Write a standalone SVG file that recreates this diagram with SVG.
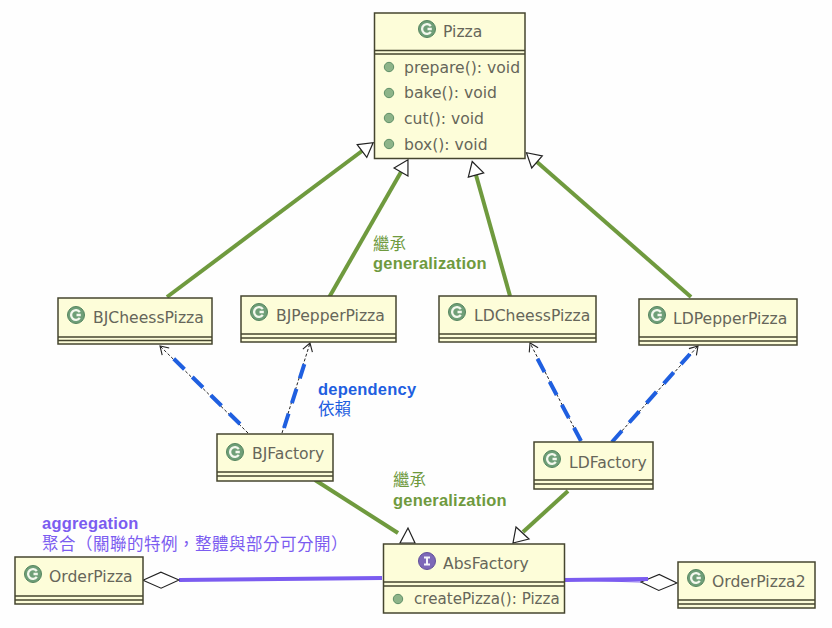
<svg xmlns="http://www.w3.org/2000/svg" width="832" height="628" viewBox="0 0 832 628">
<style>
.box{fill:#fdfdd9;stroke:#45452f;stroke-width:1.5}
.div{stroke:#45452f;stroke-width:1.4;fill:none}
.t{font-family:"DejaVu Sans","Noto Sans",sans-serif;font-size:15.6px;fill:#66665a}
.dot{fill:#8db489;stroke:#5f8f68;stroke-width:1}
.gen{stroke:#6f9a3e;stroke-width:4;fill:none}
.depb{stroke:#1f5fe0;stroke-width:4;fill:none;stroke-dasharray:15 11}
.dept{stroke:#222;stroke-width:1;fill:none;stroke-dasharray:3 2}
.agg{stroke:#7b5cf0;stroke-width:4;fill:none}
.lab{font-family:"Liberation Sans","Noto Sans CJK TC",sans-serif;font-size:16.5px;font-weight:700;letter-spacing:.2px}
.cjk{font-family:"Noto Sans CJK TC",sans-serif;font-size:16.5px;font-weight:400}
.g{fill:#6f9a3e}.b{fill:#1f5fe0}.p{fill:#7b5cf0}
</style>
<defs>
<marker id="tri" markerUnits="userSpaceOnUse" markerWidth="20" markerHeight="20" refX="0" refY="10" viewBox="0 0 20 20" orient="auto" overflow="visible"><path d="M0,2 L14,10 L0,18 Z" fill="#fff" stroke="#222" stroke-width="1.2"/></marker>
<marker id="triA" markerUnits="userSpaceOnUse" markerWidth="40" markerHeight="40" refX="20" refY="20" viewBox="0 0 40 40" orient="0" overflow="visible"><path d="M30,15 L22,30 L37,30 Z" fill="#fff" stroke="#222" stroke-width="1.2"/></marker>
<marker id="triB" markerUnits="userSpaceOnUse" markerWidth="40" markerHeight="40" refX="20" refY="20" viewBox="0 0 40 40" orient="0" overflow="visible"><path d="M13,15 L10,31 L26,27 Z" fill="#fff" stroke="#222" stroke-width="1.2"/></marker>
<marker id="open" markerUnits="userSpaceOnUse" markerWidth="14" markerHeight="14" refX="13" refY="7" viewBox="0 0 14 14" orient="auto" overflow="visible"><path d="M5,2 L13,7 L5,12" fill="none" stroke="#222" stroke-width="1.1"/></marker>
<marker id="dia" markerUnits="userSpaceOnUse" markerWidth="40" markerHeight="20" refX="0" refY="10" viewBox="0 0 40 20" orient="auto" overflow="visible"><path d="M0,10 L18,2 L36,10 L18,18 Z" fill="#fff" stroke="#222" stroke-width="1.1"/></marker>
<g id="ic"><circle r="8.500" fill="#6f9f78" stroke="#55855f" stroke-width="1"/><path d="M3.800,-2.800 A4.800,4.800 0 1 0 3.800,2.800 M4.800,0 H0.500" fill="none" stroke="#f4f8ee" stroke-width="2.300"/></g>
<g id="ii"><circle r="8.500" fill="#7d68b8" stroke="#62509a" stroke-width="1"/><path d="M-3,-3.500 H3 M-3,3.500 H3 M0,-3.500 V3.500" fill="none" stroke="#f4f4fa" stroke-width="2"/></g>
</defs>
<rect width="832" height="628" fill="#fefefe"/>
<g id="connectors">
<path class="gen" d="M167,297 L362,151" marker-end="url(#tri)"/>
<path class="gen" d="M327,301 L401,172" marker-end="url(#tri)"/>
<path class="gen" d="M510,296 L476,175" marker-end="url(#tri)"/>
<path class="gen" d="M691,297 L537,162" marker-end="url(#tri)"/>
<path class="dept" d="M248,433 L160,346" marker-end="url(#open)"/>
<path class="depb" d="M240,424 L170,355"/>
<path class="dept" d="M282,433 L310,343" marker-end="url(#open)"/>
<path class="depb" d="M284,428 L306,359"/>
<path class="dept" d="M581,441 L530,343" marker-end="url(#open)"/>
<path class="depb" d="M581,441 L536,356"/>
<path class="dept" d="M612,442 L698,346" marker-end="url(#open)"/>
<path class="depb" d="M612,442 L690,354"/>
<path class="gen" d="M315,480 L398,533" marker-end="url(#triA)"/>
<path class="gen" d="M568,491 L523,532" marker-end="url(#triB)"/>
<path class="agg" d="M382,578 L179,580" marker-end="url(#dia)"/>
<path class="agg" d="M564,580 L641,582" marker-end="url(#dia)" style="stroke-width:1"/>
<path class="agg" d="M564,580 L648,579"/>
</g>
<g id="Pizza">
<rect class="box" x="374.500" y="13" width="150.500" height="145.500"/>
<path class="div" d="M374.500,50.500 H525 M374.500,54 H525"/>
<use href="#ic" x="427" y="29"/>
<text class="t" x="443" y="37">Pizza</text>
<circle class="dot" cx="389" cy="67" r="4.700"/><text class="t" x="404" y="72.500">prepare(): void</text>
<circle class="dot" cx="389" cy="93" r="4.700"/><text class="t" x="404" y="98">bake(): void</text>
<circle class="dot" cx="389" cy="118" r="4.700"/><text class="t" x="404" y="124">cut(): void</text>
<circle class="dot" cx="389" cy="144" r="4.700"/><text class="t" x="404" y="150">box(): void</text>
</g>
<g id="BJCheessPizza">
<rect class="box" x="58" y="298" width="154" height="46"/>
<path class="div" d="M58,337 H212 M58,340.500 H212"/>
<use href="#ic" x="76" y="315"/>
<text class="t" x="93" y="323">BJCheessPizza</text>
</g>
<g id="BJPepperPizza">
<rect class="box" x="241" y="296" width="155" height="46"/>
<path class="div" d="M241,334 H396 M241,338 H396"/>
<use href="#ic" x="259" y="312"/>
<text class="t" x="276" y="321">BJPepperPizza</text>
</g>
<g id="LDCheessPizza">
<rect class="box" x="439" y="296" width="157" height="46"/>
<path class="div" d="M439,334 H596 M439,338 H596"/>
<use href="#ic" x="457" y="312"/>
<text class="t" x="474" y="321">LDCheessPizza</text>
</g>
<g id="LDPepperPizza">
<rect class="box" x="639" y="299" width="158" height="46"/>
<path class="div" d="M639,337 H797 M639,341 H797"/>
<use href="#ic" x="657" y="315"/>
<text class="t" x="673" y="324">LDPepperPizza</text>
</g>
<g id="BJFactory">
<rect class="box" x="217" y="434" width="116" height="47"/>
<path class="div" d="M217,472 H333 M217,476 H333"/>
<use href="#ic" x="235" y="452"/>
<text class="t" x="252" y="459">BJFactory</text>
</g>
<g id="LDFactory">
<rect class="box" x="534" y="442" width="119" height="47"/>
<path class="div" d="M534,480 H653 M534,484 H653"/>
<use href="#ic" x="552" y="459"/>
<text class="t" x="569" y="468">LDFactory</text>
</g>
<g id="AbsFactory">
<rect class="box" x="383.500" y="544" width="181" height="69"/>
<path class="div" d="M383.500,582 H564.500 M383.500,586 H564.500"/>
<use href="#ii" x="427" y="561"/>
<text class="t" x="443" y="569">AbsFactory</text>
<circle class="dot" cx="398" cy="599" r="4.700"/><text class="t" x="414" y="604" style="font-size:15.100px">createPizza(): Pizza</text>
</g>
<g id="OrderPizza">
<rect class="box" x="15" y="557" width="128" height="47"/>
<path class="div" d="M15,596 H143 M15,600 H143"/>
<use href="#ic" x="33" y="574"/>
<text class="t" x="49" y="582">OrderPizza</text>
</g>
<g id="OrderPizza2">
<rect class="box" x="678" y="562" width="137" height="46"/>
<path class="div" d="M678,600 H815 M678,604 H815"/>
<use href="#ic" x="696" y="578"/>
<text class="t" x="712" y="587">OrderPizza2</text>
</g>
<g id="labels">
<text class="cjk g" x="373" y="250">繼承</text>
<text class="lab g" x="373" y="269">generalization</text>
<text class="cjk g" x="393" y="486">繼承</text>
<text class="lab g" x="393" y="506">generalization</text>
<text class="lab b" x="318" y="395">dependency</text>
<text class="cjk b" x="318" y="415">依賴</text>
<text class="lab p" x="42" y="528.500">aggregation</text>
<text class="cjk p" x="42" y="549.500" style="letter-spacing:.5px">聚合（關聯的特例，整體與部分可分開）</text>
</g>
</svg>
